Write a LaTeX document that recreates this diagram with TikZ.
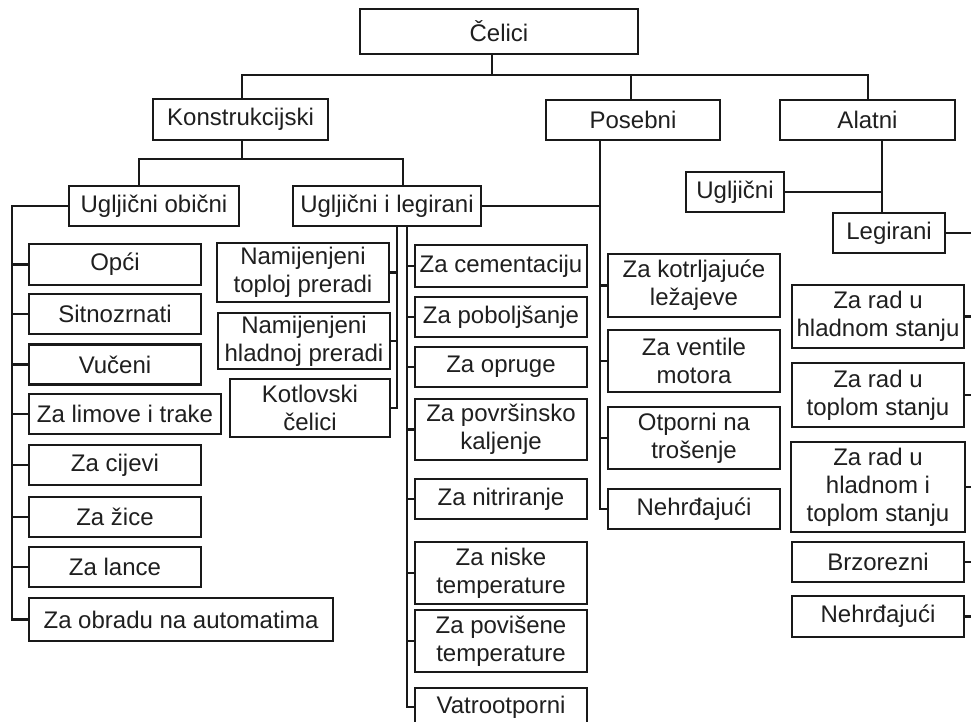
\documentclass[tikz,border=0pt]{standalone}
\usepackage{fontspec}
\setmainfont{Liberation Sans}
\begin{document}
\begin{tikzpicture}[x=1pt,y=-1pt,
  bx/.style={draw=black!90, line width=2.6pt, inner sep=0pt, align=center,
    text=black!88, font=\fontsize{24}{28}\selectfont},
  ln/.style={draw=black!90, line width=2.2pt}]
\useasboundingbox (0,0) rectangle (971,722);
\clip (0,0) rectangle (971,722);
\fill[white] (0,0) rectangle (971,722);
% level 0/1
\node[bx, minimum width=278pt, minimum height=45pt] (cel) at (499,31.5) {Čelici};
\node[bx, minimum width=175pt, minimum height=41pt] (kon) at (240.5,119.5) {Konstrukcijski};
\node[bx, minimum width=174pt, minimum height=40pt] (pos) at (633,120) {Posebni};
\node[bx, minimum width=175pt, minimum height=40pt] (ala) at (867.5,120) {Alatni};
% level 2
\node[bx, minimum width=170pt, minimum height=40pt] (uo) at (154,206) {Ugljični obični};
\node[bx, minimum width=188pt, minimum height=40pt] (ul) at (387,206) {Ugljični i legirani};
\node[bx, minimum width=98pt, minimum height=40pt] (ugc) at (735,192) {Ugljični};
\node[bx, minimum width=112pt, minimum height=40pt] (leg) at (889,233) {Legirani};
% left column
\node[bx, minimum width=172pt, minimum height=41pt] (opc) at (115,264.5) {Opći};
\node[bx, minimum width=172pt, minimum height=40pt] (sit) at (115,314) {Sitnozrnati};
\node[bx, minimum width=172pt, minimum height=40pt] (vuc) at (115,364.5) {Vučeni};
\node[bx, minimum width=192pt, minimum height=40pt] (lim) at (125,414) {Za limove i trake};
\node[bx, minimum width=172pt, minimum height=40pt] (cij) at (115,465) {Za cijevi};
\node[bx, minimum width=172pt, minimum height=40pt] (zic) at (115,517) {Za žice};
\node[bx, minimum width=172pt, minimum height=40pt] (lan) at (115,567) {Za lance};
\node[bx, minimum width=304pt, minimum height=43pt] (aut) at (181,619.5) {Za obradu na automatima};
% middle-left column
\node[bx, minimum width=172pt, minimum height=59pt] (top) at (303,272.5) {Namijenjeni\\toploj preradi};
\node[bx, minimum width=172pt, minimum height=56pt] (hla) at (304,341) {Namijenjeni\\hladnoj preradi};
\node[bx, minimum width=160pt, minimum height=58pt] (kot) at (310,408) {Kotlovski\\čelici};
% middle column
\node[bx, minimum width=172pt, minimum height=42pt] (cem) at (501,266) {Za cementaciju};
\node[bx, minimum width=172pt, minimum height=40pt] (pob) at (501,317) {Za poboljšanje};
\node[bx, minimum width=172pt, minimum height=40pt] (opr) at (501,367) {Za opruge};
\node[bx, minimum width=172pt, minimum height=61pt] (pov) at (501,429.5) {Za površinsko\\kaljenje};
\node[bx, minimum width=172pt, minimum height=40pt] (nit) at (501,499) {Za nitriranje};
\node[bx, minimum width=172pt, minimum height=62pt] (nis) at (501,573) {Za niske\\temperature};
\node[bx, minimum width=172pt, minimum height=62pt] (pvs) at (501,641) {Za povišene\\temperature};
\node[bx, minimum width=172pt, minimum height=38pt] (vat) at (501,707) {Vatrootporni};
% Posebni column
\node[bx, minimum width=172pt, minimum height=63pt] (kol) at (694,285.5) {Za kotrljajuće\\ležajeve};
\node[bx, minimum width=172pt, minimum height=62pt] (ven) at (694,361) {Za ventile\\motora};
\node[bx, minimum width=172pt, minimum height=62pt] (otp) at (694,438) {Otporni na\\trošenje};
\node[bx, minimum width=172pt, minimum height=40pt] (nea) at (694,509) {Nehrđajući};
% Alatni column
\node[bx, minimum width=172pt, minimum height=63pt] (rh) at (878,316.5) {Za rad u\\hladnom stanju};
\node[bx, minimum width=172pt, minimum height=64pt] (rt) at (878,395) {Za rad u\\toplom stanju};
\node[bx, minimum width=174pt, minimum height=90pt] (rht) at (878,487) {Za rad u\\hladnom i\\toplom stanju};
\node[bx, minimum width=172pt, minimum height=40pt] (brz) at (878,562) {Brzorezni};
\node[bx, minimum width=172pt, minimum height=41pt] (neb) at (878,616.5) {Nehrđajući};
% connectors: top
\coordinate (rail) at (492,75);
\draw[ln] (cel.south -| rail) -- (rail);
\draw[ln] (kon.north -| 242,0) -- (242,75) -- (868,75) -- (ala.north -| 868,0);
\draw[ln] (pos.north -| 631,0) -- (631,75);
% Konstrukcijski
\draw[ln] (kon.south -| 242,0) -- (242,159);
\draw[ln] (uo.north -| 139,0) -- (139,159) -- (403,159) -- (ul.north -| 403,0);
% Ugljicni obicni
\draw[ln] (uo.west) -- (uo.west -| 12,0) |- (aut.west);
\foreach \n in {opc,sit,vuc,lim,cij,zic,lan} \draw[ln] (\n.west) -- (\n.west -| 12,0);
% Ugljicni i legirani
\draw[ln] (ul.east) -- (ul.east -| 600,0);
\draw[ln] (ul.south -| 397,0) |- (kot.east);
\foreach \n in {top,hla} \draw[ln] (\n.east) -- (\n.east -| 397,0);
\draw[ln] (ul.south -| 407,0) |- (vat.west);
\foreach \n in {cem,pob,opr,pov,nit,nis,pvs} \draw[ln] (\n.west) -- (\n.west -| 407,0);
% Posebni
\draw[ln] (pos.south -| 600,0) |- (nea.west);
\foreach \n in {kol,ven,otp} \draw[ln] (\n.west) -- (\n.west -| 600,0);
% Alatni
\draw[ln] (ala.south -| 882,0) -- (leg.north -| 882,0);
\draw[ln] (ugc.east) -- (ugc.east -| 882,0);
\coordinate (rr) at (985,233);
\draw[ln] (leg.east) -- (rr) |- (neb.east);
\foreach \n in {rh,rt,rht,brz} \draw[ln] (\n.east) -- (\n.east -| rr);
\end{tikzpicture}
\end{document}
